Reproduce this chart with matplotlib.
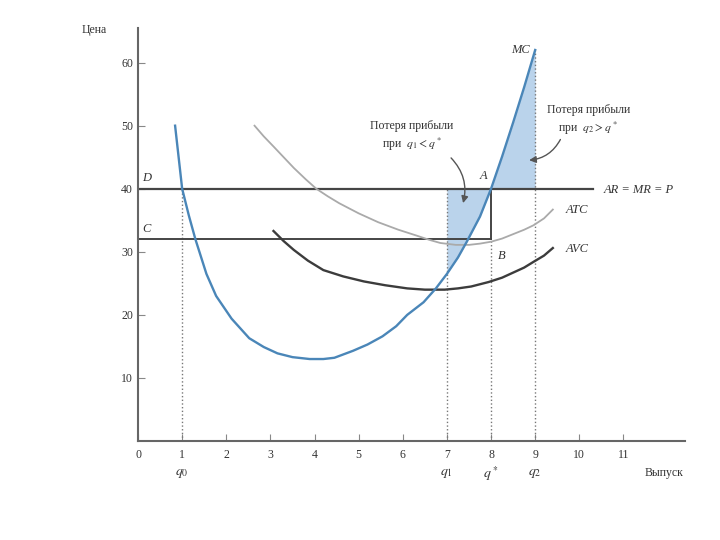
import matplotlib
matplotlib.use("Agg")
import matplotlib.pyplot as plt
import numpy as np

plt.rcParams['font.family'] = ['Liberation Serif', 'DejaVu Serif']
plt.rcParams['mathtext.fontset'] = 'stix'

# values
price = 40          # AR = MR = P
c_level = 32        # average total cost at q*
q0, q1, q_star, q2 = 1, 7, 8, 9

mc_q = [0.84, 0.92, 1.0, 1.15, 1.3, 1.55, 1.77, 2.12, 2.52, 2.85, 3.16, 3.5,
        3.89, 4.2, 4.45, 4.87, 5.2, 5.54, 5.85, 6.1, 6.47, 6.75, 7.0, 7.25,
        7.45, 7.75, 8.0, 8.25, 8.5, 8.75, 9.0]
mc_p = [50, 45, 40, 35.8, 32, 26.5, 23, 19.4, 16.3, 14.9, 13.9, 13.3,
        13.0, 13.0, 13.2, 14.3, 15.3, 16.6, 18.2, 20, 22, 24.2, 26.5, 29.1,
        31.6, 35.6, 40, 45.1, 50.5, 56.1, 62]

atc_q = [2.64, 2.85, 3.07, 3.3, 3.53, 3.8, 4.04, 4.3, 4.56, 5.0, 5.44, 5.9,
         6.3, 6.6, 6.85, 7.2, 7.5, 7.75, 8.0, 8.25, 8.5, 8.75, 8.96, 9.2, 9.4]
atc_p = [50, 48.3, 46.7, 45, 43.3, 41.5, 40, 38.8, 37.7, 36.1, 34.7, 33.5,
         32.6, 31.9, 31.4, 31.1, 31.1, 31.3, 31.6, 32.1, 32.8, 33.5, 34.2, 35.3, 36.7]

avc_q = [3.07, 3.3, 3.53, 3.85, 4.2, 4.65, 5.12, 5.6, 6.1, 6.5, 6.95, 7.25,
         7.55, 7.94, 8.25, 8.5, 8.75, 8.96, 9.2, 9.4]
avc_p = [33.3, 31.7, 30.3, 28.6, 27.1, 26.1, 25.3, 24.7, 24.2, 24.0, 24.0, 24.2,
         24.5, 25.2, 25.9, 26.7, 27.5, 28.4, 29.4, 30.6]

x_ticks = list(range(0, 12))
y_ticks = [10, 20, 30, 40, 50, 60]
q_labels = [(q0, r'$q_0$'), (q1, r'$q_1$'), (q_star, r'$q^*$'), (q2, r'$q_2$')]

blue = '#4a86b8'
shade = '#a9c8e6'
dark = '#454545'

fig = plt.figure(figsize=(7.2, 5.4), dpi=100)
ax = fig.add_axes([0.1917, 0.1833, 0.76, 0.765])
ax.set_xlim(0, 12.4)
ax.set_ylim(0, 65.5)

# shaded profit losses
mq = np.array(mc_q)
mp = np.array(mc_p)
left = (mq >= q1) & (mq <= q_star)
right = (mq >= q_star) & (mq <= q2)
ax.fill_between(mq[left], mp[left], price, color=shade, alpha=0.8, lw=0)
ax.fill_between(mq[right], price, mp[right], color=shade, alpha=0.8, lw=0)

# dotted guide lines
ax.plot([q0, q0], [0, price], ls=':', color='#777777', lw=1)
ax.plot([q1, q1], [0, price], ls=':', color='#777777', lw=1)
ax.plot([q_star, q_star], [0, c_level], ls=':', color='#777777', lw=1)
ax.plot([q2, q2], [0, 62], ls=':', color='#777777', lw=1)

# price line and cost rectangle
ax.plot([0, 10.3], [price, price], color=dark, lw=1.6)
ax.plot([0, q_star], [c_level, c_level], color=dark, lw=1.4)
ax.plot([q_star, q_star], [c_level, price], color=dark, lw=1.4)

ax.plot(atc_q, atc_p, color='#aaaaaa', lw=1.3)
ax.plot(avc_q, avc_p, color='#3c3c3c', lw=1.7)
ax.plot(mc_q, mc_p, color=blue, lw=1.7)

for s in ['top', 'right']:
    ax.spines[s].set_visible(False)
for s in ['left', 'bottom']:
    ax.spines[s].set_color('#666666')
    ax.spines[s].set_linewidth(1.5)

ax.set_xticks(x_ticks)
ax.set_yticks(y_ticks)
ax.tick_params(direction='in', length=5, color='#888888', labelsize=8.5,
               labelcolor='#333333')
ax.tick_params(axis='x', pad=6)

it = dict(style='italic', fontsize=9, color='#333333')
ax.text(0.1, 41.2, 'D', **it)
ax.text(0.1, 33.2, 'C', **it)
ax.text(7.75, 41.5, 'A', **it)
ax.text(8.15, 28.8, 'B', **it)
ax.text(8.45, 61.5, 'MC', **it)
ax.text(9.7, 36.2, 'ATC', **it)
ax.text(9.7, 30.0, 'AVC', **it)
ax.text(10.55, 39.3, 'AR = MR = P', **it)

for q, lab in q_labels:
    ax.text(q, -5.2, lab, ha='center', va='center', fontsize=10,
            color='#333333', clip_on=False)
ax.text(12.35, -5.0, 'Выпуск', ha='right', va='center', fontsize=8.5,
        color='#333333', clip_on=False)
ax.text(-1.27, 65.2, 'Цена', ha='left', va='center', fontsize=8.5,
        color='#333333', clip_on=False)

ax.text(6.2, 48.3, 'Потеря прибыли\nпри  $q_1 < q^*$', ha='center',
        va='center', fontsize=8.5, color='#333333', linespacing=1.3)
ax.text(10.2, 50.8, 'Потеря прибыли\nпри  $q_2 > q^*$', ha='center',
        va='center', fontsize=8.5, color='#333333', linespacing=1.3)
ax.annotate('', xy=(7.35, 37.3), xytext=(7.05, 45.2),
            arrowprops=dict(arrowstyle='-|>', color='#555555', lw=1,
                            connectionstyle='arc3,rad=-0.3'))
ax.annotate('', xy=(8.8, 44.5), xytext=(9.6, 48.2),
            arrowprops=dict(arrowstyle='-|>', color='#555555', lw=1,
                            connectionstyle='arc3,rad=-0.3'))

fig.savefig('out.png', dpi=100)
